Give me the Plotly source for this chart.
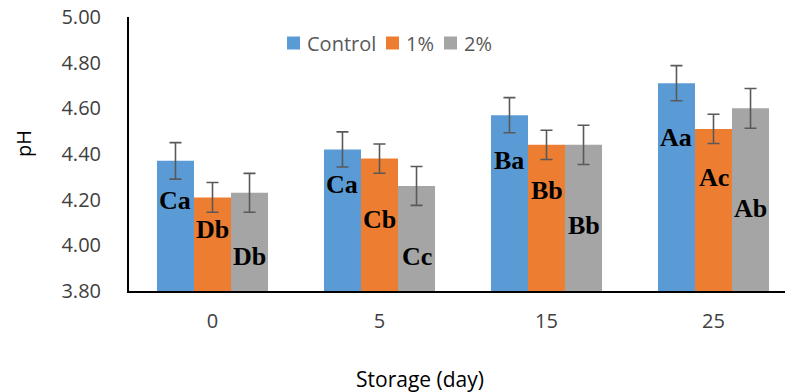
import plotly.graph_objects as go

# Storage days and pH means (± SD) for each treatment
days = ["0", "5", "15", "25"]
series_names = ["Control", "1%", "2%"]
control = [4.37, 4.42, 4.57, 4.71]
one_pct = [4.21, 4.38, 4.44, 4.51]
two_pct = [4.23, 4.26, 4.44, 4.60]
control_sd = [0.08, 0.077, 0.077, 0.077]
one_pct_sd = [0.065, 0.064, 0.064, 0.064]
two_pct_sd = [0.085, 0.085, 0.086, 0.087]

# Significance letters for each bar
control_letters = ["Ca", "Ca", "Ba", "Aa"]
one_pct_letters = ["Db", "Cb", "Bb", "Ac"]
two_pct_letters = ["Db", "Cc", "Bb", "Ab"]

# Vertical placement of the letter labels (pH units)
control_label_y = [4.198, 4.268, 4.373, 4.474]
one_pct_label_y = [4.071, 4.115, 4.242, 4.299]
two_pct_label_y = [3.953, 3.949, 4.089, 4.163]

colors = ["#5B9BD5", "#ED7D31", "#A5A5A5"]
values = [control, one_pct, two_pct]
sds = [control_sd, one_pct_sd, two_pct_sd]
letters = [control_letters, one_pct_letters, two_pct_letters]
label_ys = [control_label_y, one_pct_label_y, two_pct_label_y]

W, H = 785, 392
ML, MR, MT, MB = 129, 0, 17, 101
PW, PH = W - ML - MR, H - MT - MB
bargap = 0.335
bar_w = (1 - bargap) / 3
xpos = list(range(len(days)))
cat_px = 167
x_max = -0.5 + PW / cat_px


def px_x(p):
    return (p - ML) / PW


def px_y(p):
    return (H - MB - p) / PH


fig = go.Figure()
for name, vals, sd, col in zip(series_names, values, sds, colors):
    fig.add_trace(go.Bar(
        x=xpos, y=vals, name=name, showlegend=False,
        marker=dict(color=col, line=dict(width=0)),
        error_y=dict(type="data", array=sd, visible=True,
                     color="#595959", thickness=1.6, width=6),
    ))

for k, (labs, ys) in enumerate(zip(letters, label_ys)):
    for i, (lab, yy) in enumerate(zip(labs, ys)):
        fig.add_annotation(
            x=i + (k - 1) * bar_w, y=yy, xref="x", yref="y",
            text=f"<b>{lab}</b>", showarrow=False,
            font=dict(family="Liberation Serif", size=26, color="black"),
            xanchor="center", yanchor="middle",
        )

# Legend: colour swatches followed by series names
legend_swatch_x = [287, 386, 444]
legend_cy = 43
sw = 13
for name, col, sx in zip(series_names, colors, legend_swatch_x):
    fig.add_shape(
        type="rect", xref="paper", yref="paper",
        x0=px_x(sx), x1=px_x(sx + sw),
        y0=px_y(legend_cy + sw / 2), y1=px_y(legend_cy - sw / 2),
        fillcolor=col, line=dict(width=0),
    )
    fig.add_annotation(
        x=px_x(sx + sw + 5), y=px_y(legend_cy), xref="paper", yref="paper",
        text=name, showarrow=False, xanchor="left", yanchor="middle",
        font=dict(family="Open Sans", size=20, color="#595959"),
    )

# Axis titles
fig.add_annotation(
    x=px_x(420), y=px_y(379), xref="paper", yref="paper", text="Storage (day)",
    showarrow=False, xanchor="center", yanchor="middle",
    font=dict(family="Open Sans", size=21, color="black"),
)
fig.add_annotation(
    x=px_x(23), y=px_y(144), xref="paper", yref="paper", text="pH",
    showarrow=False, xanchor="center", yanchor="middle", textangle=-90,
    font=dict(family="Open Sans", size=20, color="black"),
)

fig.update_layout(
    width=W, height=H,
    margin=dict(l=ML, r=MR, t=MT, b=MB, pad=0),
    paper_bgcolor="white", plot_bgcolor="white",
    barmode="group", bargap=bargap, bargroupgap=0,
    font=dict(family="Open Sans", size=20, color="#404040"),
    showlegend=False,
    xaxis=dict(
        range=[-0.5, x_max], tickmode="array", tickvals=xpos, ticktext=days,
        showline=True, linecolor="black", linewidth=2, ticks="",
        showgrid=False, zeroline=False, ticklabelstandoff=11,
        tickfont=dict(family="Open Sans", size=20, color="#404040"),
    ),
    yaxis=dict(
        range=[3.8, 5.0], tick0=3.8, dtick=0.2, tickformat=".2f",
        showline=True, linecolor="black", linewidth=2, ticks="",
        showgrid=False, zeroline=False, ticklabelstandoff=22,
        tickfont=dict(family="Open Sans", size=20, color="#404040"),
    ),
)

fig.write_html("out.html")
